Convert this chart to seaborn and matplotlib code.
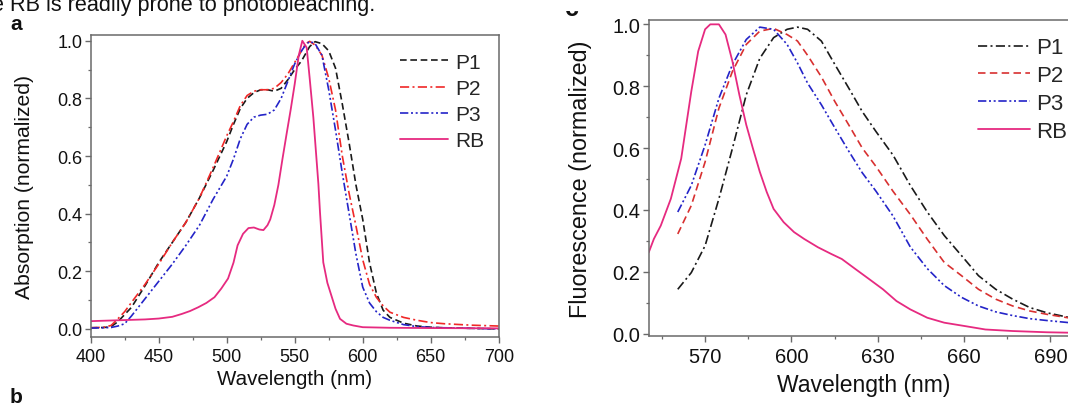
import numpy as np
import pandas as pd
import matplotlib
matplotlib.use("Agg")
import matplotlib.pyplot as plt
import seaborn as sns
from matplotlib.ticker import MultipleLocator
from matplotlib.transforms import Bbox

# ---------------- data: absorption (panel a) ----------------
abs_wl = [400, 410, 415, 420, 425, 430, 440, 450, 460, 470, 480, 490, 500, 505, 510,
          515, 520, 525, 530, 535, 540, 545, 550, 555, 558, 561, 565, 570, 575, 580,
          585, 590, 595, 600, 605, 610, 615, 620, 630, 640, 650, 660, 680, 700]
abs_p1 = [0.004, 0.005, 0.008, 0.025, 0.05, 0.075, 0.15, 0.23, 0.30, 0.37, 0.455, 0.55, 0.65, 0.71, 0.765,
          0.80, 0.82, 0.83, 0.83, 0.825, 0.835, 0.865, 0.90, 0.93, 0.955, 0.98, 0.997, 0.99, 0.965, 0.905,
          0.78, 0.645, 0.50, 0.38, 0.23, 0.125, 0.065, 0.04, 0.02, 0.01, 0.006, 0.004, 0.002, 0.0]
abs_p2 = [0.004, 0.006, 0.012, 0.035, 0.06, 0.092, 0.155, 0.225, 0.30, 0.37, 0.455, 0.56, 0.67, 0.72, 0.775,
          0.81, 0.825, 0.83, 0.83, 0.835, 0.855, 0.885, 0.925, 0.965, 0.99, 0.998, 0.985, 0.95, 0.87, 0.76,
          0.60, 0.47, 0.358, 0.24, 0.155, 0.11, 0.08, 0.058, 0.04, 0.03, 0.022, 0.018, 0.013, 0.01]
abs_p3 = [0.003, 0.004, 0.005, 0.01, 0.018, 0.045, 0.105, 0.165, 0.225, 0.29, 0.36, 0.45, 0.53, 0.59, 0.66,
          0.71, 0.735, 0.742, 0.745, 0.76, 0.80, 0.86, 0.92, 0.965, 0.985, 0.998, 0.99, 0.95, 0.83, 0.69,
          0.54, 0.40, 0.26, 0.145, 0.09, 0.06, 0.04, 0.03, 0.015, 0.008, 0.005, 0.004, 0.002, 0.0]
rb_abs_wl = [400, 420, 440, 450, 460, 467, 473, 479, 485, 491, 496, 501, 505, 508, 512, 516, 520,
             524, 527, 530, 532, 535, 538, 541, 544, 547, 550, 553, 555.6, 558.8, 561, 563.7,
             567.4, 568.6, 571, 574, 577, 580, 583.3, 588, 593, 600, 620, 650, 700]
rb_abs = [0.027, 0.03, 0.033, 0.036, 0.042, 0.052, 0.062, 0.075, 0.09, 0.11, 0.14, 0.175, 0.23, 0.29,
          0.33, 0.35, 0.352, 0.345, 0.343, 0.36, 0.38, 0.43, 0.50, 0.59, 0.676, 0.76, 0.85, 0.95, 1.0,
          0.976, 0.87, 0.734, 0.503, 0.404, 0.231, 0.16, 0.115, 0.07, 0.035, 0.018, 0.012, 0.006,
          0.004, 0.003, 0.002]

# ---------------- data: fluorescence (panel b) ----------------
fl_wl_p = [560.5, 565.2, 570, 574.8, 579.5, 584.3, 589, 593.8, 598.5, 602.1, 605.6, 610.4, 615.1,
           619.9, 624.6, 629.4, 635.3, 641.3, 647.2, 653.1, 659.1, 665, 671, 676.9, 682.8, 688.8, 700]
fl_p1 = [0.143, 0.197, 0.284, 0.436, 0.599, 0.772, 0.89, 0.957, 0.984, 0.991, 0.984, 0.946, 0.87,
         0.794, 0.718, 0.653, 0.577, 0.479, 0.393, 0.317, 0.252, 0.187, 0.143, 0.111, 0.084, 0.067, 0.045]
fl_p2 = [0.322, 0.414, 0.555, 0.729, 0.848, 0.935, 0.978, 0.987, 0.967, 0.946, 0.90, 0.83, 0.75,
         0.675, 0.60, 0.54, 0.46, 0.385, 0.305, 0.23, 0.187, 0.143, 0.111, 0.089, 0.073, 0.062, 0.045]
fl_p3 = [0.393, 0.479, 0.61, 0.761, 0.87, 0.951, 0.991, 0.984, 0.935, 0.875, 0.81, 0.74, 0.665,
         0.59, 0.52, 0.46, 0.38, 0.28, 0.21, 0.155, 0.117, 0.089, 0.07, 0.058, 0.048, 0.042, 0.032]
fl_wl_rb = [550.4, 552.2, 554.6, 558.1, 561.7, 565.2, 567.6, 570, 571.8, 574.8, 577.1, 579.5, 581.9,
            584.3, 586.6, 589, 591.4, 593.8, 597.3, 600.9, 604.4, 609.2, 613.9, 617.5, 622.3, 627,
            631.8, 636.5, 641.3, 647.2, 653.1, 660.3, 667.4, 676.9, 688.8, 700]
fl_rb = [0.262, 0.306, 0.349, 0.436, 0.566, 0.783, 0.913, 0.984, 1.0, 1.0, 0.967, 0.88, 0.772,
         0.675, 0.599, 0.523, 0.458, 0.403, 0.36, 0.328, 0.306, 0.279, 0.257, 0.241, 0.208, 0.176,
         0.143, 0.105, 0.078, 0.051, 0.035, 0.024, 0.013, 0.008, 0.004, 0.002]

series_names = ["P1", "P2", "P3", "RB"]

sns.set_theme(style="ticks")
plt.rcParams["font.family"] = ["Liberation Sans", "DejaVu Sans"]

BLACK = "#1a1a1a"
RED_A = "#f02828"
RED_B = "#d83030"
BLUE = "#2424c8"
PINK = "#e62a80"
SPINE = "#6a6a6a"
TXT = "#111111"

W, H = 1068, 406
fig = plt.figure(figsize=(W / 100, H / 100), dpi=100)
ax1 = fig.add_axes([0.0849, 0.1675, 0.3821, 0.7438])
ax2 = fig.add_axes([0.6074, 0.170, 0.4031, 0.779])

dash = (0, (4.0, 2.2))
dashdot = (0, (5.5, 2.0, 1.2, 2.0))
dashdotdot = (0, (5.0, 1.6, 1.2, 1.6, 1.2, 1.6))
lw = 1.2

# panel a
sns.lineplot(x=abs_wl, y=abs_p1, ax=ax1, color=BLACK, linestyle=dash, lw=lw, label=series_names[0], sort=False)
sns.lineplot(x=abs_wl, y=abs_p2, ax=ax1, color=RED_A, linestyle=dashdot, lw=lw, label=series_names[1], sort=False)
sns.lineplot(x=abs_wl, y=abs_p3, ax=ax1, color=BLUE, linestyle=dashdotdot, lw=lw, label=series_names[2], sort=False)
sns.lineplot(x=rb_abs_wl, y=rb_abs, ax=ax1, color=PINK, linestyle="-", lw=1.3, label=series_names[3], sort=False)

# panel b
sns.lineplot(x=fl_wl_p, y=fl_p1, ax=ax2, color=BLACK, linestyle=dashdot, lw=lw, label=series_names[0], sort=False)
sns.lineplot(x=fl_wl_p, y=fl_p2, ax=ax2, color=RED_B, linestyle=(0, (4.5, 2.6)), lw=lw, label=series_names[1], sort=False)
sns.lineplot(x=fl_wl_p, y=fl_p3, ax=ax2, color=BLUE, linestyle=dashdotdot, lw=lw, label=series_names[2], sort=False)
sns.lineplot(x=fl_wl_rb, y=fl_rb, ax=ax2, color=PINK, linestyle="-", lw=1.3, label=series_names[3], sort=False)

ax1.set_xlim(400, 700)
ax1.set_ylim(-0.028, 1.02)
ax2.set_xlim(550.4, 700)
ax2.set_ylim(-0.008, 1.015)

ax1.xaxis.set_major_locator(MultipleLocator(50))
ax1.xaxis.set_minor_locator(MultipleLocator(25))
ax2.xaxis.set_major_locator(MultipleLocator(30))
ax2.xaxis.set_minor_locator(MultipleLocator(15))
for ax in (ax1, ax2):
    ax.yaxis.set_major_locator(MultipleLocator(0.2))
    ax.yaxis.set_minor_locator(MultipleLocator(0.1))
    ax.yaxis.set_major_formatter(matplotlib.ticker.FormatStrFormatter("%.1f"))
    for s in ax.spines.values():
        s.set_visible(True)
        s.set_color(SPINE)
        s.set_linewidth(1.1)
    ax.tick_params(which="major", direction="out", length=4, width=1.0, color=SPINE,
                   labelcolor=TXT, pad=2)
    ax.tick_params(which="minor", direction="out", length=2.5, width=0.9, color=SPINE)
    ax.set_facecolor("white")

ax1.tick_params(axis="both", labelsize=13)
ax1.tick_params(axis="x", pad=4)
ax2.tick_params(axis="both", labelsize=14.5)
ax2.tick_params(axis="x", pad=4)

ax1.set_xlabel("Wavelength (nm)", fontsize=14.8, color=TXT, labelpad=3)
ax1.set_ylabel("Absorption (normalized)", fontsize=15.2, color=TXT, labelpad=17)
ax2.set_xlabel("Wavelength (nm)", fontsize=16.5, color=TXT, labelpad=5)
ax2.set_ylabel("Fluorescence (normalized)", fontsize=16.8, color=TXT, labelpad=15)

leg1 = ax1.legend(loc="upper left", bbox_to_anchor=(400 / W, 1 - 53.6 / H), bbox_transform=fig.transFigure,
                  frameon=False, fontsize=15, handlelength=2.3, handletextpad=0.33, labelspacing=0.35,
                  borderaxespad=0, borderpad=0)
leg2 = ax2.legend(loc="upper left", bbox_to_anchor=(978 / W, 1 - 38.5 / H), bbox_transform=fig.transFigure,
                  frameon=False, fontsize=16, handlelength=2.35, handletextpad=0.25, labelspacing=0.3,
                  borderaxespad=0, borderpad=0)

# panel letters and clipped caption text
fig.text(375 / W, 1 - 11 / H, "the RB is readily prone to photobleaching.", ha="right",
         va="baseline", fontsize=15.6, color=TXT)
fig.text(16 / W, 1 - 24 / H, "a", ha="center", va="center", fontsize=15, fontweight="bold", color=TXT)
fig.text(16 / W, 1 - 398 / H, "b", ha="center", va="center", fontsize=15, fontweight="bold", color=TXT)
c_txt = fig.text(572 / W, 1 - 16.5 / H, "c", ha="center", va="baseline", fontsize=18, fontweight="bold", color=TXT)
c_txt.set_clip_box(Bbox([[555, H - 17], [595, H - 11.5]]))
c_txt.set_clip_on(True)

fig.savefig("out.png", dpi=100, facecolor="white")
